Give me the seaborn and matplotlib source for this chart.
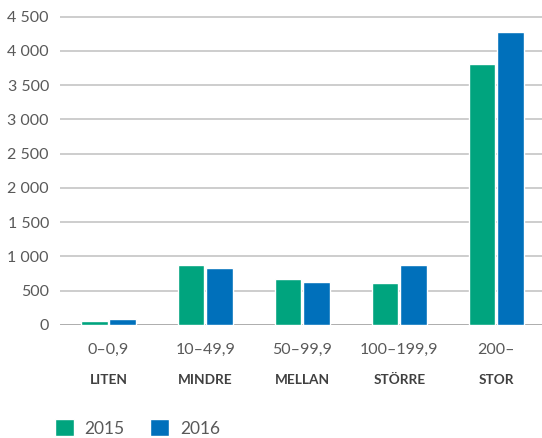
import matplotlib
matplotlib.use("Agg")
import matplotlib.pyplot as plt
import matplotlib.transforms as mtransforms
import seaborn as sns
import pandas as pd

ranges = ["0–0,9", "10–49,9", "50–99,9", "100–199,9", "200–"]
sizes = ["LITEN", "MINDRE", "MELLAN", "STÖRRE", "STOR"]
years = ["2015", "2016"]
values_2015 = [62, 880, 675, 620, 3815]
values_2016 = [92, 835, 632, 880, 4282]
yticks = [0, 500, 1000, 1500, 2000, 2500, 3000, 3500, 4000, 4500]

colors = {"2015": "#00a47e", "2016": "#0070bb"}


def main():
	df = pd.DataFrame({
		"range": ranges * 2,
		"value": values_2015 + values_2016,
		"year": [years[0]] * len(ranges) + [years[1]] * len(ranges),
	})

	sns.set_style("white")
	plt.rcParams["font.family"] = ["Lato", "DejaVu Sans"]

	fig = plt.figure(figsize=(5.42, 4.38), dpi=100)
	ax = fig.add_axes([60 / 542, 113 / 438, 482 / 542, 309 / 438])

	sns.barplot(data=df, x="range", y="value", hue="year", order=ranges,
				hue_order=years, palette=colors, width=0.58, gap=0.07,
				saturation=1, ax=ax, legend=True, zorder=3)

	ax.set_ylim(0, 4510)
	ax.set_xlim(-0.5, 4.47)
	ax.set_yticks(yticks)
	ax.set_yticklabels([f"{v:,}".replace(",", " ") for v in yticks])
	ax.yaxis.grid(True, color="#c0c0c0", linewidth=1.1, zorder=0)
	ax.axhline(0, color="#a6a6a6", linewidth=1.8, zorder=2)
	ax.set_axisbelow(True)
	for s in ax.spines.values():
		s.set_visible(False)
	ax.tick_params(axis="y", length=0, pad=8, labelsize=11.5, labelcolor="#595959")
	ax.tick_params(axis="x", length=0, pad=13, labelsize=11.5, labelcolor="#595959")
	ax.set_xlabel("")
	ax.set_ylabel("")

	trans = mtransforms.blended_transform_factory(ax.transData, ax.transAxes)
	for i, name in enumerate(sizes):
		ax.text(i, -0.177, name, transform=trans, ha="center", va="center",
				fontsize=9.8, fontweight="bold", color="#404040")

	handles, labels = ax.get_legend_handles_labels()
	ax.get_legend().remove()
	fig.legend(handles, labels, loc="center left", bbox_to_anchor=(39 / 542, 1 - 428 / 438),
			   ncol=2, frameon=False, fontsize=12.5, labelcolor="#595959",
			   handlelength=1.1, handleheight=1.1, handletextpad=0.6, columnspacing=1.5)

	fig.savefig("out.png", dpi=100)


if __name__ == "__main__":
	main()
